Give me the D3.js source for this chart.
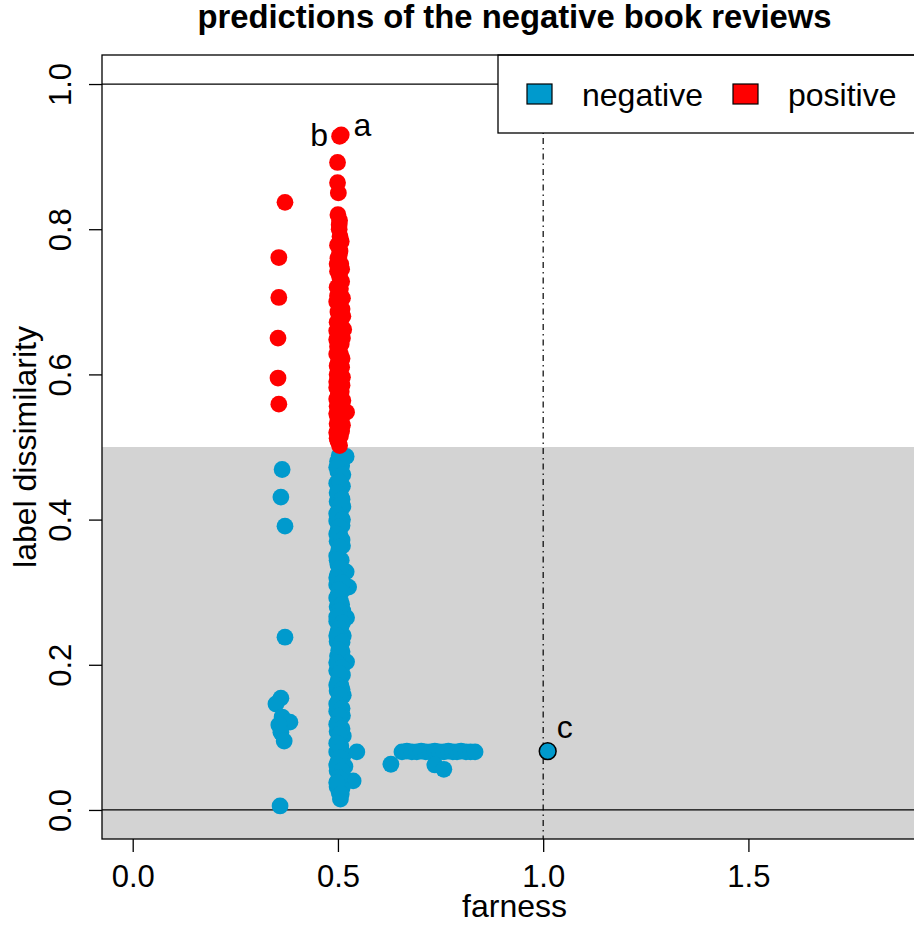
<!DOCTYPE html>
<html><head><meta charset="utf-8">
<script src="https://cdn.jsdelivr.net/npm/d3@7"></script>
<style>body{margin:0;background:#fff}svg{display:block}text{font-family:"Liberation Sans",Arial,sans-serif}</style>
</head><body><svg id="c" width="914" height="926"></svg>
<script>
// ---- data ----
const xTicks = [0, 0.5, 1.0, 1.5];
const yTicks = [0, 0.2, 0.4, 0.6, 0.8, 1.0];
const legendLabels = ["negative", "positive"];
const legendColors = ["#009ACD", "#FF0000"];
const hLines = [0, 1];
const vLines = [1.0];
const threshold = 0.5;

// negative reviews predicted negative (blue)
const negIsolated = [[0.364,0.469],[0.361,0.431],[0.371,0.391],[0.371,0.238],[0.361,0.154],[0.349,0.146],[0.364,0.128],[0.383,0.121],[0.356,0.117],[0.361,0.107],[0.369,0.095],[0.359,0.0055]];
const negColumn = [[0.503,0.488],[0.520,0.487],[0.499,0.480],[0.509,0.474],[0.500,0.466],[0.506,0.458],[0.497,0.450],[0.511,0.446],[0.502,0.440],[0.507,0.432],[0.498,0.425],[0.512,0.418],[0.501,0.412],[0.506,0.405],[0.497,0.398],[0.510,0.392],[0.500,0.385],[0.505,0.378],[0.498,0.370],[0.511,0.364],[0.502,0.358],[0.497,0.350],[0.508,0.344],[0.500,0.338],[0.512,0.330],[0.499,0.324],[0.520,0.328],[0.505,0.317],[0.497,0.310],[0.526,0.307],[0.510,0.302],[0.500,0.296],[0.506,0.288],[0.498,0.280],[0.512,0.274],[0.501,0.268],[0.521,0.265],[0.497,0.260],[0.508,0.254],[0.500,0.246],[0.513,0.240],[0.498,0.232],[0.505,0.226],[0.510,0.218],[0.499,0.212],[0.521,0.204],[0.503,0.200],[0.497,0.192],[0.511,0.186],[0.500,0.178],[0.507,0.172],[0.498,0.164],[0.513,0.158],[0.501,0.150],[0.506,0.142],[0.497,0.136],[0.511,0.130],[0.500,0.122],[0.505,0.116],[0.498,0.108],[0.513,0.102],[0.501,0.094],[0.507,0.088],[0.497,0.080],[0.512,0.074],[0.500,0.066],[0.517,0.060],[0.498,0.054],[0.506,0.048],[0.501,0.040],[0.520,0.040],[0.537,0.040],[0.498,0.032],[0.510,0.030],[0.503,0.024],[0.506,0.015]];
const negColumnFill = [[0.505,0.484],[0.497,0.472],[0.512,0.462],[0.504,0.452],[0.498,0.437],[0.510,0.428],[0.504,0.419],[0.497,0.408],[0.511,0.400],[0.503,0.390],[0.497,0.380],[0.510,0.372],[0.504,0.362],[0.498,0.344],[0.505,0.333],[0.497,0.320],[0.510,0.313],[0.503,0.303],[0.497,0.292],[0.509,0.283],[0.503,0.274],[0.497,0.266],[0.511,0.258],[0.504,0.250],[0.497,0.240],[0.510,0.231],[0.502,0.220],[0.497,0.203],[0.509,0.196],[0.504,0.188],[0.497,0.172],[0.510,0.166],[0.504,0.158],[0.497,0.146],[0.510,0.140],[0.503,0.130],[0.497,0.118],[0.510,0.112],[0.504,0.104],[0.497,0.092],[0.508,0.082],[0.504,0.072],[0.497,0.062],[0.510,0.054],[0.503,0.044],[0.497,0.038],[0.508,0.022]];
const negCluster = [[0.546,0.080],[0.629,0.063],[0.656,0.080],[0.668,0.081],[0.680,0.080],[0.692,0.080],[0.703,0.081],[0.714,0.080],[0.725,0.080],[0.736,0.081],[0.747,0.080],[0.758,0.080],[0.769,0.081],[0.780,0.080],[0.790,0.080],[0.800,0.081],[0.812,0.080],[0.823,0.080],[0.834,0.080],[0.736,0.062],[0.758,0.056]];
const negHighlight = [[1.011,0.081]];

// negative reviews predicted positive (red)
const posIsolated = [[0.371,0.837],[0.356,0.761],[0.356,0.706],[0.354,0.650],[0.354,0.595],[0.356,0.559]];
const posColumn = [[0.508,0.930],[0.504,0.928],[0.499,0.892],[0.499,0.864],[0.501,0.850],[0.500,0.820],[0.504,0.812],[0.503,0.800],[0.508,0.783],[0.499,0.778],[0.505,0.770],[0.500,0.760],[0.507,0.752],[0.509,0.745],[0.499,0.742],[0.504,0.735],[0.509,0.728],[0.498,0.720],[0.506,0.718],[0.503,0.712],[0.511,0.705],[0.497,0.700],[0.505,0.694],[0.510,0.690],[0.500,0.686],[0.512,0.680],[0.498,0.672],[0.506,0.668],[0.514,0.662],[0.501,0.656],[0.511,0.650],[0.497,0.648],[0.508,0.642],[0.503,0.636],[0.497,0.628],[0.510,0.622],[0.500,0.615],[0.509,0.610],[0.505,0.608],[0.498,0.600],[0.511,0.596],[0.503,0.590],[0.510,0.585],[0.497,0.582],[0.508,0.576],[0.500,0.570],[0.512,0.564],[0.498,0.556],[0.504,0.552],[0.521,0.548],[0.499,0.542],[0.508,0.536],[0.511,0.530],[0.501,0.528],[0.497,0.520],[0.506,0.515],[0.500,0.508],[0.504,0.502]];
const posColumnFill = [[0.503,0.806],[0.505,0.790],[0.503,0.764],[0.498,0.752],[0.504,0.724],[0.499,0.708],[0.505,0.700],[0.504,0.678],[0.497,0.660],[0.506,0.652],[0.499,0.638],[0.506,0.628],[0.498,0.612],[0.504,0.598],[0.497,0.590],[0.505,0.582],[0.497,0.566],[0.508,0.560],[0.497,0.546],[0.504,0.540],[0.498,0.532],[0.509,0.522],[0.498,0.512]];

// annotation labels: [x, y, text, anchor]
const annLabels = [[0.538,0.928,"a","start"],[0.476,0.914,"b","end"],[1.033,0.099,"c","start"]];

// ---- drawing ----
const svg = d3.select("#c");
const L = 102, R = 931, T = 55, B = 839;
const x = d3.scaleLinear().domain([-0.0748, 1.9448]).range([L, R]);
const y = d3.scaleLinear().domain([-0.04, 1.04]).range([B, T]);
const FS = 32, TFS = 31;

svg.append("defs").append("clipPath").attr("id","clip")
  .append("rect").attr("x",L).attr("y",T).attr("width",R-L).attr("height",B-T);
const plot = svg.append("g").attr("clip-path","url(#clip)");

plot.append("rect").attr("x",L).attr("y",y(threshold)).attr("width",R-L).attr("height",B-y(threshold)).attr("fill","#D3D3D3");

plot.selectAll("line.h").data(hLines).enter().append("line")
  .attr("x1",L).attr("x2",R).attr("y1",d=>y(d)).attr("y2",d=>y(d))
  .attr("stroke","#000").attr("stroke-width",1.3);
plot.selectAll("line.v").data(vLines).enter().append("line")
  .attr("y1",T).attr("y2",B).attr("x1",d=>x(d)).attr("x2",d=>x(d))
  .attr("stroke","#000").attr("stroke-width",1.2).attr("stroke-dasharray","1.5,4,6,4");

const rad = 8.4;
function dots(data, color, stroke){
  plot.append("g").selectAll("circle").data(data).enter().append("circle")
    .attr("cx",d=>x(d[0])).attr("cy",d=>y(d[1])).attr("r",rad)
    .attr("fill",color).attr("stroke",stroke||"none").attr("stroke-width",stroke?1.5:0);
}
dots(negIsolated, legendColors[0]);
dots(negColumn, legendColors[0]);
dots(negColumnFill, legendColors[0]);
dots(negCluster, legendColors[0]);
dots(posIsolated, legendColors[1]);
dots(posColumn, legendColors[1]);
dots(posColumnFill, legendColors[1]);
dots(negHighlight, legendColors[0], "#000");

svg.selectAll("text.ann").data(annLabels).enter().append("text")
  .attr("x",d=>x(d[0])).attr("y",d=>y(d[1])).attr("text-anchor",d=>d[3])
  .attr("font-size",FS).text(d=>d[2]);

const lg = svg.append("g");
lg.append("rect").attr("x",498).attr("y",T).attr("width",R-498).attr("height",78)
  .attr("fill","#fff").attr("stroke","#000").attr("stroke-width",1.3);
const lx = [527, 733];
legendLabels.forEach((lab,i)=>{
  lg.append("rect").attr("x",lx[i]).attr("y",84).attr("width",25).attr("height",20)
    .attr("fill",legendColors[i]).attr("stroke","#000").attr("stroke-width",1.2);
  lg.append("text").attr("x",lx[i]+55).attr("y",106).attr("font-size",FS).text(lab);
});

svg.append("rect").attr("x",L).attr("y",T).attr("width",R-L).attr("height",B-T)
  .attr("fill","none").attr("stroke","#000").attr("stroke-width",1.3);

const xa = svg.append("g").attr("transform",`translate(0,${B})`)
  .call(d3.axisBottom(x).tickValues(xTicks).tickSize(13).tickFormat(d3.format(".1f")));
xa.select(".domain").remove();
xa.selectAll("line").attr("stroke-width",1.3);
xa.selectAll("text").attr("y",48).attr("dy",null).attr("font-size",TFS).attr("font-family","Liberation Sans, Arial, sans-serif").attr("fill","#000");

const ya = svg.append("g").attr("transform",`translate(${L},0)`)
  .call(d3.axisLeft(y).tickValues(yTicks).tickSize(13).tickFormat(d3.format(".1f")));
ya.select(".domain").remove();
ya.selectAll("line").attr("stroke-width",1.3);
ya.selectAll("text").attr("x",null).attr("dy",null)
  .attr("transform",`translate(${71-L},0) rotate(-90)`).attr("text-anchor","middle")
  .attr("font-size",TFS).attr("font-family","Liberation Sans, Arial, sans-serif").attr("fill","#000");

svg.append("text").attr("x",(L+R)/2 - 2).attr("y",28).attr("text-anchor","middle")
  .attr("font-size",32.8).attr("font-weight","bold").text("predictions of the negative book reviews");
svg.append("text").attr("x",(L+R)/2 - 2).attr("y",917).attr("text-anchor","middle")
  .attr("font-size",FS).text("farness");
svg.append("text").attr("transform",`translate(36,${(T+B)/2}) rotate(-90)`).attr("text-anchor","middle")
  .attr("font-size",FS).text("label dissimilarity");
</script></body></html>
